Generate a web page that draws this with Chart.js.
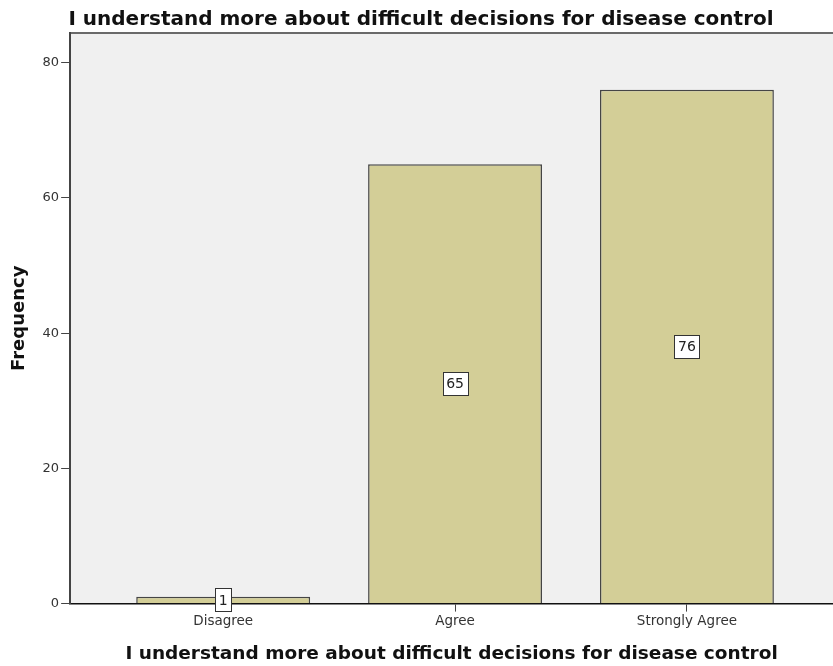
<!DOCTYPE html>
<html>
<head>
<meta charset="utf-8">
<script src="https://cdn.jsdelivr.net/npm/chart.js@4"></script>
<style>
  html, body { margin: 0; padding: 0; background: #fff; overflow: hidden; }
  #wrap { width: 833px; height: 666px; }
</style>
</head>
<body>
<div id="wrap"><canvas id="freqChart"></canvas></div>
<script>
const chartTitle = 'I understand more about difficult decisions for disease control';
const categories = ['Disagree', 'Agree', 'Strongly Agree'];
const frequencies = [1, 65, 76];
const yTickStep = 20;
const yMax = 84.4;
// x range in category units (the plot runs past the last bar, as in the original)
const xMin = -0.66;
const xMax = 2.63;

// Grey plot background + top frame line
const plotFrame = {
    id: 'plotFrame',
    beforeDraw(chart) {
        const { ctx, chartArea: a } = chart;
        ctx.save();
        ctx.fillStyle = '#f0f0f0';
        ctx.fillRect(a.left, a.top, a.right - a.left, a.bottom - a.top);
        ctx.strokeStyle = '#6a6a6a';
        ctx.lineWidth = 2;
        ctx.beginPath();
        ctx.moveTo(a.left, a.top);
        ctx.lineTo(a.right, a.top);
        ctx.stroke();
        ctx.restore();
    }
};

// White boxed count labels in the middle of each bar
const valueBoxes = {
    id: 'valueBoxes',
    afterDatasetsDraw(chart) {
        const ctx = chart.ctx;
        const meta = chart.getDatasetMeta(0);
        ctx.save();
        ctx.font = '14px "DejaVu Sans"';
        ctx.textAlign = 'center';
        ctx.textBaseline = 'middle';
        meta.data.forEach((bar, i) => {
            const { x, y, base } = bar.getProps(['x', 'y', 'base'], true);
            const cy = (y + base) / 2;
            const text = String(frequencies[i]);
            const w = Math.round(ctx.measureText(text).width + 7);
            const h = 23;
            const left = Math.round(x - w / 2) + 0.5;
            const top = Math.round(cy - h / 2) + 0.5;
            ctx.fillStyle = '#ffffff';
            ctx.fillRect(left, top, w, h);
            ctx.strokeStyle = '#333333';
            ctx.lineWidth = 1;
            ctx.strokeRect(left, top, w, h);
            ctx.fillStyle = '#222222';
            ctx.fillText(text, x, cy + 1);
        });
        ctx.restore();
    }
};

const ctx = document.getElementById('freqChart').getContext('2d');

new Chart(ctx, {
    type: 'bar',
    data: {
        datasets: [{
            label: 'Frequency',
            data: frequencies.map((v, i) => ({ x: i, y: v })),
            backgroundColor: '#d3ce97',
            borderColor: '#454545',
            borderWidth: 1.5,
            borderSkipped: 'bottom',
            barPercentage: 0.75,
            categoryPercentage: 1.0
        }]
    },
    options: {
        responsive: true,
        maintainAspectRatio: false,
        animation: false,
        layout: { padding: { left: 9, right: 0, top: 0, bottom: 1 } },
        plugins: {
            legend: { display: false },
            tooltip: { enabled: false },
            title: {
                display: true,
                text: chartTitle,
                color: '#111',
                font: { family: '"DejaVu Sans"', size: 20, weight: 'bold' },
                padding: { top: 8, bottom: 1 }
            }
        },
        scales: {
            x: {
                type: 'linear',
                min: xMin,
                max: xMax,
                offset: false,
                afterBuildTicks: (axis) => {
                    axis.ticks = categories.map((c, i) => ({ value: i }));
                },
                grid: {
                    display: true,
                    offset: false,
                    drawOnChartArea: false,
                    drawTicks: true,
                    tickLength: 8,
                    color: '#444'
                },
                border: { display: true, color: '#111', width: 1.5 },
                ticks: {
                    autoSkip: false,
                    maxRotation: 0,
                    padding: 2,
                    color: '#333',
                    font: { family: '"DejaVu Sans"', size: 13.5 },
                    callback: (value) => categories[value] ?? ''
                },
                title: {
                    display: true,
                    text: chartTitle,
                    color: '#111',
                    font: { family: '"DejaVu Sans"', size: 18.5, weight: 'bold' },
                    padding: { top: 11, bottom: 0 }
                }
            },
            y: {
                min: 0,
                max: yMax,
                grid: {
                    display: true,
                    drawOnChartArea: false,
                    drawTicks: true,
                    tickLength: 9,
                    color: '#444'
                },
                border: { display: true, color: '#444', width: 2 },
                ticks: {
                    stepSize: yTickStep,
                    includeBounds: false,
                    padding: 2,
                    color: '#333',
                    font: { family: '"DejaVu Sans"', size: 13 }
                },
                title: {
                    display: true,
                    text: 'Frequency',
                    color: '#111',
                    font: { family: '"DejaVu Sans"', size: 18, weight: 'bold' },
                    padding: { top: 0, bottom: 10 }
                }
            }
        }
    },
    plugins: [plotFrame, valueBoxes]
});
</script>
</body>
</html>
